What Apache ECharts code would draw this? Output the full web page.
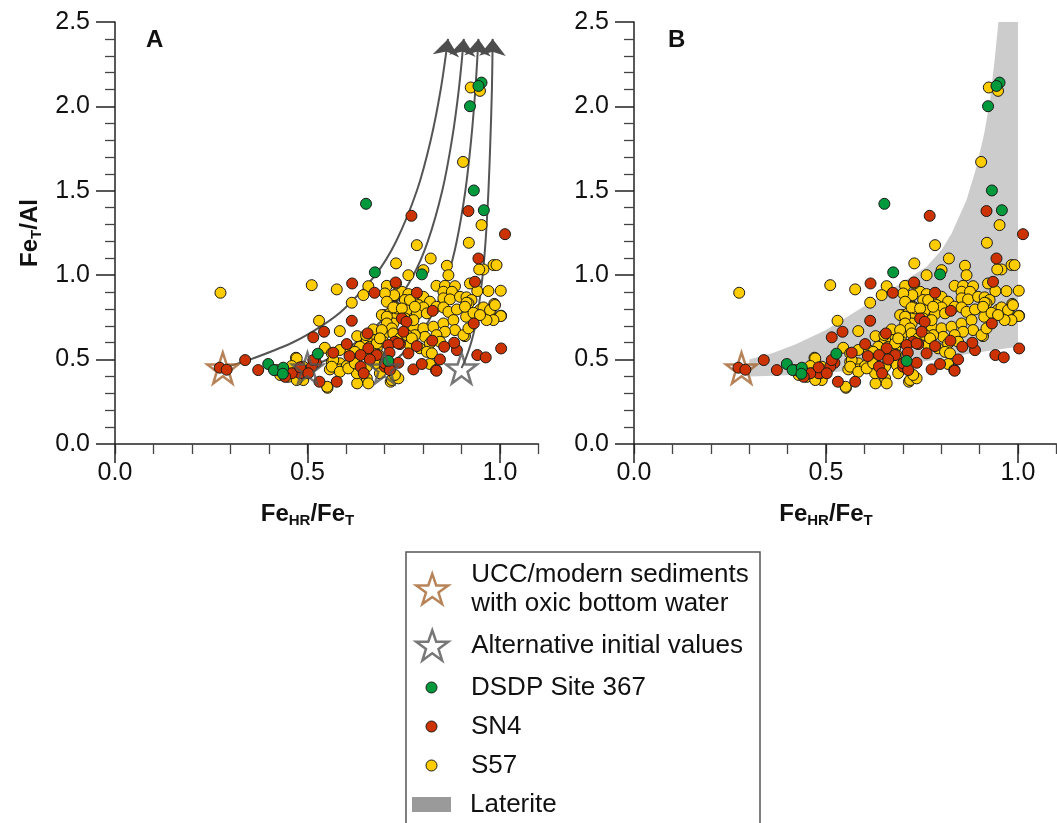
<!DOCTYPE html>
<html>
<head>
<meta charset="utf-8">
<script src="https://cdn.jsdelivr.net/npm/echarts@6/dist/echarts.min.js"></script>
<style>
html, body { margin: 0; padding: 0; background: #fff; }
#chart { width: 1057px; height: 823px; }
</style>
</head>
<body>
<div id="chart"></div>
<script>
// axis ranges
const xMax = 1.1
const yMax = 2.5

// DSDP Site 367
const dsdp = [[0.952,2.141],[0.944,2.121],[0.922,2.001],[0.932,1.502],[0.958,1.385],[0.652,1.423],[0.675,1.017],
  [0.797,1.005],[0.527,0.535],[0.398,0.474],[0.413,0.438],[0.437,0.452],[0.436,0.416],[0.710,0.492]]

// SN4
const sn4 = [[0.770,1.352],[0.918,1.380],[1.013,1.243],[0.944,1.099],[0.935,0.961],[0.616,0.951],[0.729,0.957],
  [0.674,0.896],[0.784,0.896],[0.615,0.730],[0.543,0.665],[0.515,0.632],[0.656,0.655],[0.602,0.592],[0.338,0.497],
  [0.372,0.438],[0.272,0.452],[0.290,0.440],[0.531,0.369],[0.576,0.369],[0.775,0.442],[0.834,0.438],[0.797,0.474],
  [0.844,0.501],[0.888,0.556],[0.881,0.600],[0.855,0.576],[0.941,0.527],[0.963,0.513],[1.003,0.566],[0.932,0.714],
  [0.825,0.789],[0.745,0.744],[0.757,0.724],[0.749,0.665],[0.727,0.606],[0.784,0.580],[0.824,0.612],[0.710,0.586],
  [0.658,0.567],[0.680,0.527],[0.638,0.527],[0.638,0.458],[0.646,0.419],[0.567,0.541],[0.609,0.521],[0.662,0.501],
  [0.701,0.458],[0.736,0.481],[0.713,0.541],[0.522,0.481],[0.481,0.419],[0.459,0.419],[0.442,0.398],[0.481,0.454],
  [0.511,0.458],[0.502,0.419],[0.515,0.497],[0.701,0.478],[0.714,0.438],[0.762,0.537],[0.740,0.592],[0.835,0.434],
  [0.736,0.596]]

// S57
const s57 = [[0.924,2.112],[0.948,2.092],[0.904,1.671],[0.952,1.297],[0.784,1.178],[0.919,1.192],[0.820,1.099],
  [0.730,1.070],[0.862,1.056],[0.983,1.060],[0.991,1.060],[0.957,1.034],[0.946,1.034],[0.801,1.030],[0.866,1.000],
  [0.762,1.000],[0.922,0.951],[0.274,0.896],[0.511,0.941],[0.576,0.916],[0.658,0.935],[0.706,0.937],[0.645,0.882],
  [0.615,0.837],[0.970,0.906],[1.002,0.908],[0.941,0.906],[0.835,0.937],[0.857,0.937],[0.883,0.935],[0.853,0.902],
  [0.875,0.902],[0.745,0.902],[0.723,0.876],[0.762,0.888],[0.801,0.872],[0.818,0.843],[0.853,0.863],[0.870,0.857],
  [0.896,0.872],[0.913,0.869],[0.926,0.853],[0.918,0.833],[0.730,0.951],[0.725,0.882],[0.701,0.892],[0.727,0.813],
  [0.701,0.764],[0.714,0.774],[0.732,0.754],[0.530,0.730],[0.584,0.669],[0.629,0.639],[0.545,0.570],[0.470,0.511],
  [0.552,0.333],[0.629,0.359],[0.716,0.369],[0.818,0.474],[0.965,0.754],[0.980,0.740],[1.003,0.760],[0.948,0.795],
  [0.961,0.771],[0.976,0.790],[0.985,0.830],[0.912,0.754],[0.913,0.837],[0.716,0.714],[0.671,0.679],[0.697,0.645],
  [0.675,0.616],[0.697,0.606],[0.654,0.616],[0.610,0.557],[0.628,0.527],[0.645,0.557],[0.662,0.576],[0.680,0.567],
  [0.684,0.527],[0.671,0.507],[0.658,0.527],[0.563,0.487],[0.584,0.478],[0.558,0.442],[0.584,0.442],[0.602,0.462],
  [0.619,0.448],[0.628,0.419],[0.654,0.389],[0.658,0.359],[0.551,0.339],[0.472,0.507],[0.459,0.462],[0.463,0.419],
  [0.450,0.398],[0.442,0.428],[0.429,0.409],[0.420,0.438],[0.481,0.398],[0.498,0.428],[0.489,0.379],[0.472,0.379],
  [0.684,0.468],[0.688,0.419],[0.719,0.379],[0.736,0.389],[0.753,0.853],[0.775,0.843],[0.788,0.823],[0.801,0.809],
  [0.732,0.803],[0.758,0.793],[0.784,0.770],[0.810,0.774],[0.835,0.813],[0.853,0.809],[0.866,0.783],[0.888,0.797],
  [0.909,0.813],[0.931,0.777],[0.957,0.809],[0.974,0.793],[0.987,0.823],[1.002,0.758],[0.983,0.734],[0.965,0.734],
  [0.948,0.764],[0.775,0.695],[0.801,0.685],[0.827,0.695],[0.853,0.714],[0.879,0.734],[0.883,0.675],[0.857,0.665],
  [0.835,0.645],[0.805,0.635],[0.779,0.645],[0.723,0.714],[0.732,0.645],[0.909,0.639],[0.844,0.606],[0.818,0.596],
  [0.792,0.567],[0.810,0.546],[0.823,0.537],[0.766,0.586],[0.727,0.409],[0.766,0.853],[0.706,0.843],[0.723,0.809],
  [0.745,0.803],[0.779,0.813],[0.693,0.764],[0.706,0.754],[0.753,0.744],[0.775,0.734],[0.706,0.714],[0.719,0.685],
  [0.693,0.675],[0.723,0.655],[0.740,0.626],[0.758,0.645],[0.771,0.626],[0.652,0.645],[0.680,0.596],[0.688,0.626],
  [0.636,0.576],[0.623,0.546],[0.584,0.557],[0.563,0.537],[0.567,0.497],[0.563,0.458],[0.584,0.428],[0.606,0.448],
  [0.623,0.478],[0.654,0.458],[0.485,0.419],[0.489,0.458],[0.905,0.645],[0.918,0.685]]

// initial values
const uccStar = [[0.28,0.45]]
const altStars = [[0.50,0.45],[0.70,0.45],[0.90,0.45]]

// curves (start at each star, arrow at the top)
const curves = [
  [[0.28,0.45],[0.35,0.5],[0.46,0.6],[0.537,0.7],[0.595,0.8],[0.676,1.0],[0.73,1.2],[0.784,1.5],[0.82,1.8],[0.846,2.1],[0.865,2.40]],
  [[0.50,0.45],[0.55,0.5],[0.625,0.6],[0.679,0.7],[0.719,0.8],[0.775,1.0],[0.8125,1.2],[0.85,1.5],[0.875,1.8],[0.893,2.1],[0.906,2.40]],
  [[0.70,0.45],[0.73,0.5],[0.775,0.6],[0.807,0.7],[0.831,0.8],[0.865,1.0],[0.8875,1.2],[0.91,1.5],[0.925,1.8],[0.936,2.1],[0.944,2.40]],
  [[0.90,0.45],[0.91,0.5],[0.925,0.6],[0.936,0.7],[0.944,0.8],[0.955,1.0],[0.9625,1.2],[0.97,1.5],[0.975,1.8],[0.979,2.1],[0.981,2.40]]
]
const arrowTilt = [-7, -5, -3, -1]

// laterite field outline (panel B)
const laterite = [[0.30,0.50],[0.36,0.537],[0.42,0.59],[0.50,0.675],[0.57,0.774],[0.641,0.872],[0.70,0.96],
  [0.762,1.05],[0.801,1.149],[0.827,1.247],[0.866,1.445],[0.892,1.642],[0.912,1.84],[0.927,2.037],[0.939,2.27],
  [0.949,2.50],[1.0,2.50],[1.0,0.576],[0.88,0.537],[0.80,0.505],[0.70,0.468],[0.60,0.442],[0.50,0.422],
  [0.40,0.407],[0.30,0.40]]

const font = 'Liberation Sans, Arial, sans-serif'
const axisColor = '#222'
const tickColor = '#444'
const starPath = 'path://M50,2 L61.8,36.3 L97.6,36.3 L68.6,57.5 L79.4,91.8 L50,70.6 L20.6,91.8 L31.4,57.5 L2.4,36.3 L38.2,36.3 Z'
const uccName = 'UCC/modern sediments\nwith oxic bottom water'
const altName = 'Alternative initial values'
const brown = '#a5652f'
const greyStar = '#555555'
const dotColor = {'DSDP Site 367': '#009a3d', 'SN4': '#cc3300', 'S57': '#ffcc00'}

const subRich = {
  b: {fontFamily: font, fontSize: 24, fontWeight: 'bold', color: '#111'},
  s: {fontFamily: font, fontSize: 15, fontWeight: 'bold', color: '#111', padding: [12, 0, 0, 0]}
}

const fmt = v => v.toFixed(1)

const mainX = (gi) => ({
  type: 'value', gridIndex: gi, min: 0, max: xMax, interval: 0.1,
  axisLine: {show: true, lineStyle: {color: axisColor, width: 1.5}},
  axisTick: {show: true, inside: false, length: 10, lineStyle: {color: tickColor, width: 1.3}},
  axisLabel: {show: false},
  splitLine: {show: false}
})

const labelX = (gi) => ({
  type: 'value', gridIndex: gi, min: 0, max: 1, interval: 0.5,
  axisLine: {show: false},
  axisTick: {show: true, inside: false, length: 19, lineStyle: {color: axisColor, width: 1.5}},
  axisLabel: {show: true, fontFamily: font, fontSize: 25, color: '#111', margin: 17, formatter: fmt},
  splitLine: {show: false},
  name: '{b|Fe}{s|HR}{b|/Fe}{s|T}',
  nameLocation: 'middle',
  nameGap: 57,
  nameTextStyle: {rich: subRich}
})

const mainY = (gi, withName) => ({
  type: 'value', gridIndex: gi, min: 0, max: yMax, interval: 0.5,
  axisLine: {show: true, lineStyle: {color: axisColor, width: 1.5}},
  axisTick: {show: true, inside: false, length: 19, lineStyle: {color: axisColor, width: 1.5}},
  minorTick: {show: true, splitNumber: 5, length: 10, lineStyle: {color: tickColor, width: 1.3}},
  axisLabel: {show: true, fontFamily: font, fontSize: 25, color: '#111', margin: 25, formatter: fmt},
  splitLine: {show: false},
  minorSplitLine: {show: false},
  name: withName ? '{b|Fe}{s|T}{b|/Al}' : '',
  nameLocation: 'middle',
  nameGap: 71,
  nameTextStyle: {rich: subRich}
})

const hiddenY = (gi) => ({type: 'value', gridIndex: gi, min: 0, max: yMax, show: false})

const dots = (name, pts, xi) => ({
  type: 'scatter', name: name, xAxisIndex: xi, yAxisIndex: xi, data: pts,
  symbol: 'circle', symbolSize: 11, z: 4, silent: true,
  itemStyle: {color: dotColor[name], borderColor: '#1a1a1a', borderWidth: 1, opacity: 1}
})

const stars = (name, pts, xi, color, z) => ({
  type: 'scatter', name: name, xAxisIndex: xi, yAxisIndex: xi, data: pts,
  symbol: starPath, symbolSize: 31, z: z, silent: true,
  itemStyle: {color: 'rgba(0,0,0,0)', borderColor: color, borderWidth: 2.5}
})

const series = []

// panel B shaded field
series.push({
  type: 'custom', name: 'Laterite', xAxisIndex: 2, yAxisIndex: 2, z: 1, silent: true,
  data: laterite,
  encode: {x: 0, y: 1},
  itemStyle: {color: '#cccccc'},
  renderItem: function (params, api) {
    if (params.dataIndex !== 0) return null
    const pts = laterite.map(p => api.coord(p))
    return {type: 'polygon', shape: {points: pts, smooth: 0}, style: {fill: '#cccccc'}}
  }
})

// panel A curves with arrow heads
curves.forEach((c, k) => {
  series.push({
    type: 'line', name: 'curve' + k, xAxisIndex: 0, yAxisIndex: 0, z: 2, silent: true,
    smooth: 0.3, symbol: 'none', showSymbol: true,
    lineStyle: {color: '#555555', width: 2},
    itemStyle: {color: '#4d4d4d'},
    data: c.map((p, i) => i === c.length - 1
      ? {value: p, symbol: 'arrow', symbolSize: [20, 17], symbolRotate: arrowTilt[k]}
      : p)
  })
})

;[0, 2].forEach(xi => {
  series.push(stars(uccName, uccStar, xi, brown, 3))
  series.push(dots('S57', s57, xi))
  series.push(dots('SN4', sn4, xi))
  series.push(dots('DSDP Site 367', dsdp, xi))
})
series.push(stars(altName, altStars, 0, greyStar, 5))

const legendText = {fontFamily: font, fontSize: 26, color: '#111', lineHeight: 29}
const oneLegend = (item, left, top, w, h, pad) => ({
  data: [item], left: left, top: top, orient: 'vertical', padding: 0,
  itemWidth: w, itemHeight: h, selectedMode: false,
  textStyle: Object.assign({}, legendText, {padding: [0, 0, 0, pad]})
})

const option = {
  animation: false,
  backgroundColor: '#fff',
  title: [
    {text: 'A', left: 146, top: 28, padding: 0, textStyle: {fontFamily: font, fontSize: 24, fontWeight: 'bold', color: '#111'}},
    {text: 'B', left: 668, top: 28, padding: 0, textStyle: {fontFamily: font, fontSize: 24, fontWeight: 'bold', color: '#111'}}
  ],
  grid: [
    {left: 115, top: 22, width: 423.5, height: 422},
    {left: 115, top: 22, width: 385, height: 422},
    {left: 634, top: 22, width: 422.4, height: 422},
    {left: 634, top: 22, width: 384, height: 422}
  ],
  xAxis: [mainX(0), labelX(1), mainX(2), labelX(3)],
  yAxis: [mainY(0, true), hiddenY(1), mainY(2, false), hiddenY(3)],
  legend: [
    oneLegend({name: uccName, icon: starPath, itemStyle: {color: 'rgba(0,0,0,0)', borderColor: brown, borderWidth: 2.5}}, 415, 560, 32, 32, 18),
    oneLegend({name: altName, icon: starPath, itemStyle: {color: 'rgba(0,0,0,0)', borderColor: greyStar, borderWidth: 2.5}}, 415, 629, 32, 32, 18),
    oneLegend({name: 'DSDP Site 367', icon: 'circle', itemStyle: {color: dotColor['DSDP Site 367'], borderColor: '#1a1a1a', borderWidth: 1}}, 425.5, 673, 11, 11, 29),
    oneLegend({name: 'SN4', icon: 'circle', itemStyle: {color: dotColor['SN4'], borderColor: '#1a1a1a', borderWidth: 1}}, 425.5, 712, 11, 11, 29),
    oneLegend({name: 'S57', icon: 'circle', itemStyle: {color: dotColor['S57'], borderColor: '#1a1a1a', borderWidth: 1}}, 425.5, 751, 11, 11, 29),
    oneLegend({name: 'Laterite', icon: 'rect', itemStyle: {color: '#9a9a9a', borderWidth: 0}}, 412, 790, 39, 15, 14)
  ],
  graphic: [
    {type: 'rect', shape: {x: 406, y: 552, width: 354, height: 300}, style: {fill: 'none', stroke: '#555', lineWidth: 1.5}, z: -1, silent: true}
  ],
  series: series
}

const chart = echarts.init(document.getElementById('chart'))
chart.setOption(option)
</script>
</body>
</html>
